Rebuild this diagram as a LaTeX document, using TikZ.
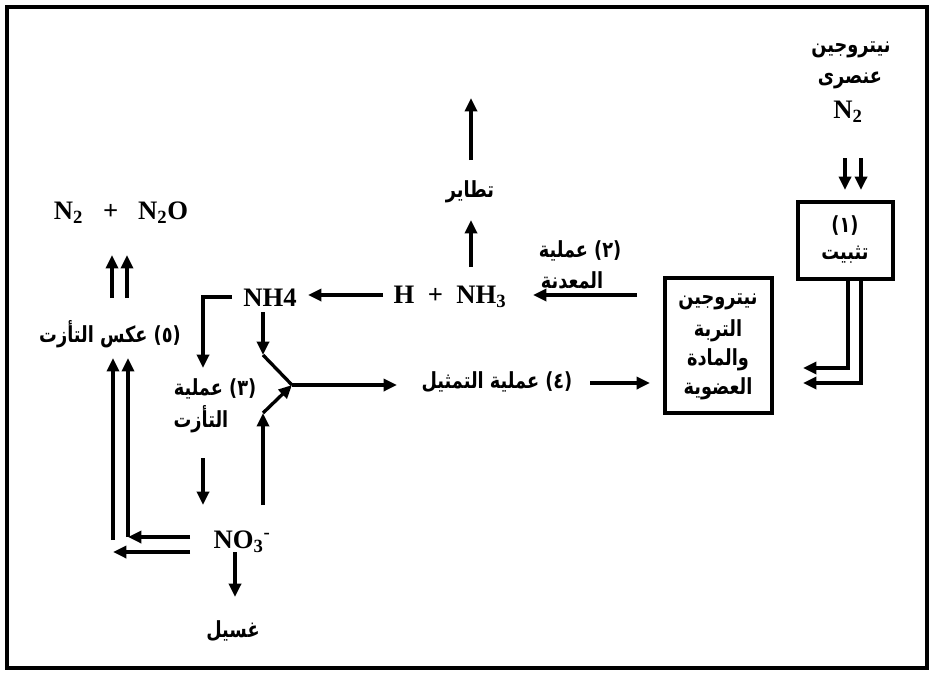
\documentclass[tikz,border=0pt]{standalone}
\usepackage{fontspec}
\setmainfont{Liberation Serif}
\newfontfamily\arabicfont[Script=Arabic]{DejaVu Sans}
\TeXXeTstate=1
\usetikzlibrary{arrows.meta}
\newcommand{\artxt}[1]{\scalebox{1}[1.25]{\arabicfont\bfseries\beginR #1\endR}}
\tikzset{
  ar/.style={inner sep=0pt, font=\fontsize{13.3}{15}\selectfont},
  lat/.style={inner sep=0pt, font=\fontsize{20}{22}\selectfont\bfseries},
  boxnode/.style={draw, line width=2.5pt, inner sep=0pt},
  ln/.style={line width=2.5pt},
  arr/.style={line width=2.5pt, -{Triangle[length=10pt,width=9pt]}},
}
\begin{document}
\begin{tikzpicture}[x=0.75pt,y=-0.75pt]
\useasboundingbox (0,0) rectangle (932,675);
\draw[line width=2.4pt] (7,7) rectangle (927,668);

% top right
\node[ar] (nit) at (851,50) {\artxt{نيتروجين}};
\node[ar] (ans) at (850,80) {\artxt{عنصرى}};
\node[lat] (ntwo) at (848,112) {N\textsubscript{2}};
\node[boxnode, minimum width=71.25pt, minimum height=57.75pt] (fix) at (845.5,240.5) {};
\node[ar] (fixa) at (845,226) {\artxt{(١)}};
\node[ar] (fixb) at (845,255) {\artxt{تثبيت}};
\coordinate (da1) at (845,158);
\coordinate (da2) at (861,158);
\coordinate (da1e) at (845,190);
\coordinate (da2e) at (861,190);
\draw[arr] (da1) -- (da1e);
\draw[arr] (da2) -- (da2e);

% soil box
\node[boxnode, minimum width=80.25pt, minimum height=101.25pt] (soil) at (718.5,345.5) {};
\node[ar] (s1) at (718,302) {\artxt{نيتروجين}};
\node[ar] (s2) at (718,331) {\artxt{التربة}};
\node[ar] (s3) at (718,360) {\artxt{والمادة}};
\node[ar] (s4) at (718,389) {\artxt{العضوية}};
\coordinate (fx1) at (848,279);
\coordinate (fx2) at (861,279);
\coordinate (fe1) at (803,368);
\coordinate (fe2) at (803,383);
\draw[arr] (fx1) |- (fe1);
\draw[arr] (fx2) |- (fe2);

% mineralisation
\node[lat] (hnh) at (450,297) {H \ + \ NH\textsubscript{3}};
\coordinate (m0) at (637,295);
\coordinate (m1) at (533,295);
\draw[arr] (m0) -- (m1);
\node[ar] (min1) at (580,251) {\artxt{(٢) عملية}};
\node[ar] (min2) at (572,280) {\artxt{المعدنة}};
\node[ar] (vol) at (470,192) {\artxt{تطاير}};
\coordinate (u1) at (471,267);
\coordinate (u2) at (471,220);
\draw[arr] (u1) -- (u2);
\coordinate (v1) at (471,160);
\coordinate (v2) at (471,98);
\draw[arr] (v1) -- (v2);

% NH4
\node[lat] (nh4) at (270,298) {NH4};
\coordinate (h1) at (383,295);
\coordinate (h2) at (308,295);
\draw[arr] (h1) -- (h2);
\coordinate (b0) at (232,297);
\coordinate (b1) at (203,297);
\coordinate (b2) at (203,368);
\draw[arr] (b0) -- (b1) -- (b2);

% Y junction
\coordinate (y0) at (263,312);
\coordinate (y1) at (263,355);
\coordinate (y2) at (263,413);
\coordinate (yj) at (292,385);
\draw[arr] (y0) -- (y1);
\draw[ln] (y1) -- (yj);
\node[ar] (assim) at (497,382) {\artxt{(٤) عملية التمثيل}};
\coordinate (a0) at (397,385);
\draw[arr] (yj) -- (a0);
\coordinate (a1) at (590,383);
\coordinate (a2) at (650,383);
\draw[arr] (a1) -- (a2);

% nitrification
\node[ar] (nit1) at (215,389) {\artxt{(٣) عملية}};
\node[ar] (nit2) at (201,419) {\artxt{التأزت}};
\coordinate (nd1) at (203,458);
\coordinate (nd2) at (203,505);
\draw[arr] (nd1) -- (nd2);
\node[lat] (no3) at (242,542) {NO\textsubscript{3}\textsuperscript{-}};
\coordinate (yb) at (263,505);
\draw[arr] (yb) -- (y2);
\draw[arr] (y2) -- (yj);
\node[ar] (leach) at (233,631) {\artxt{غسيل}};
\coordinate (w1) at (235,552);
\coordinate (w2) at (235,597);
\draw[arr] (w1) -- (w2);

% denitrification
\node[ar] (den) at (110,334) {\artxt{(٥) عكس التأزت}};
\node[lat] (gas) at (121,213) {N\textsubscript{2} \ \ + \ \ N\textsubscript{2}O};
\coordinate (g1) at (112,298);
\coordinate (g2) at (127,298);
\coordinate (g1e) at (112,255);
\coordinate (g2e) at (127,255);
\draw[arr] (g1) -- (g1e);
\draw[arr] (g2) -- (g2e);
\coordinate (l0) at (190,537);
\coordinate (l0b) at (190,552);
\coordinate (l1) at (128,537);
\coordinate (l2) at (113,552);
\coordinate (l3) at (113,540);
\coordinate (l1e) at (128,358);
\coordinate (l3e) at (113,358);
\draw[arr] (l0) -- (l1);
\draw[arr] (l0b) -- (l2);
\draw[arr] (l1) -- (l1e);
\draw[arr] (l3) -- (l3e);
\end{tikzpicture}
\end{document}
